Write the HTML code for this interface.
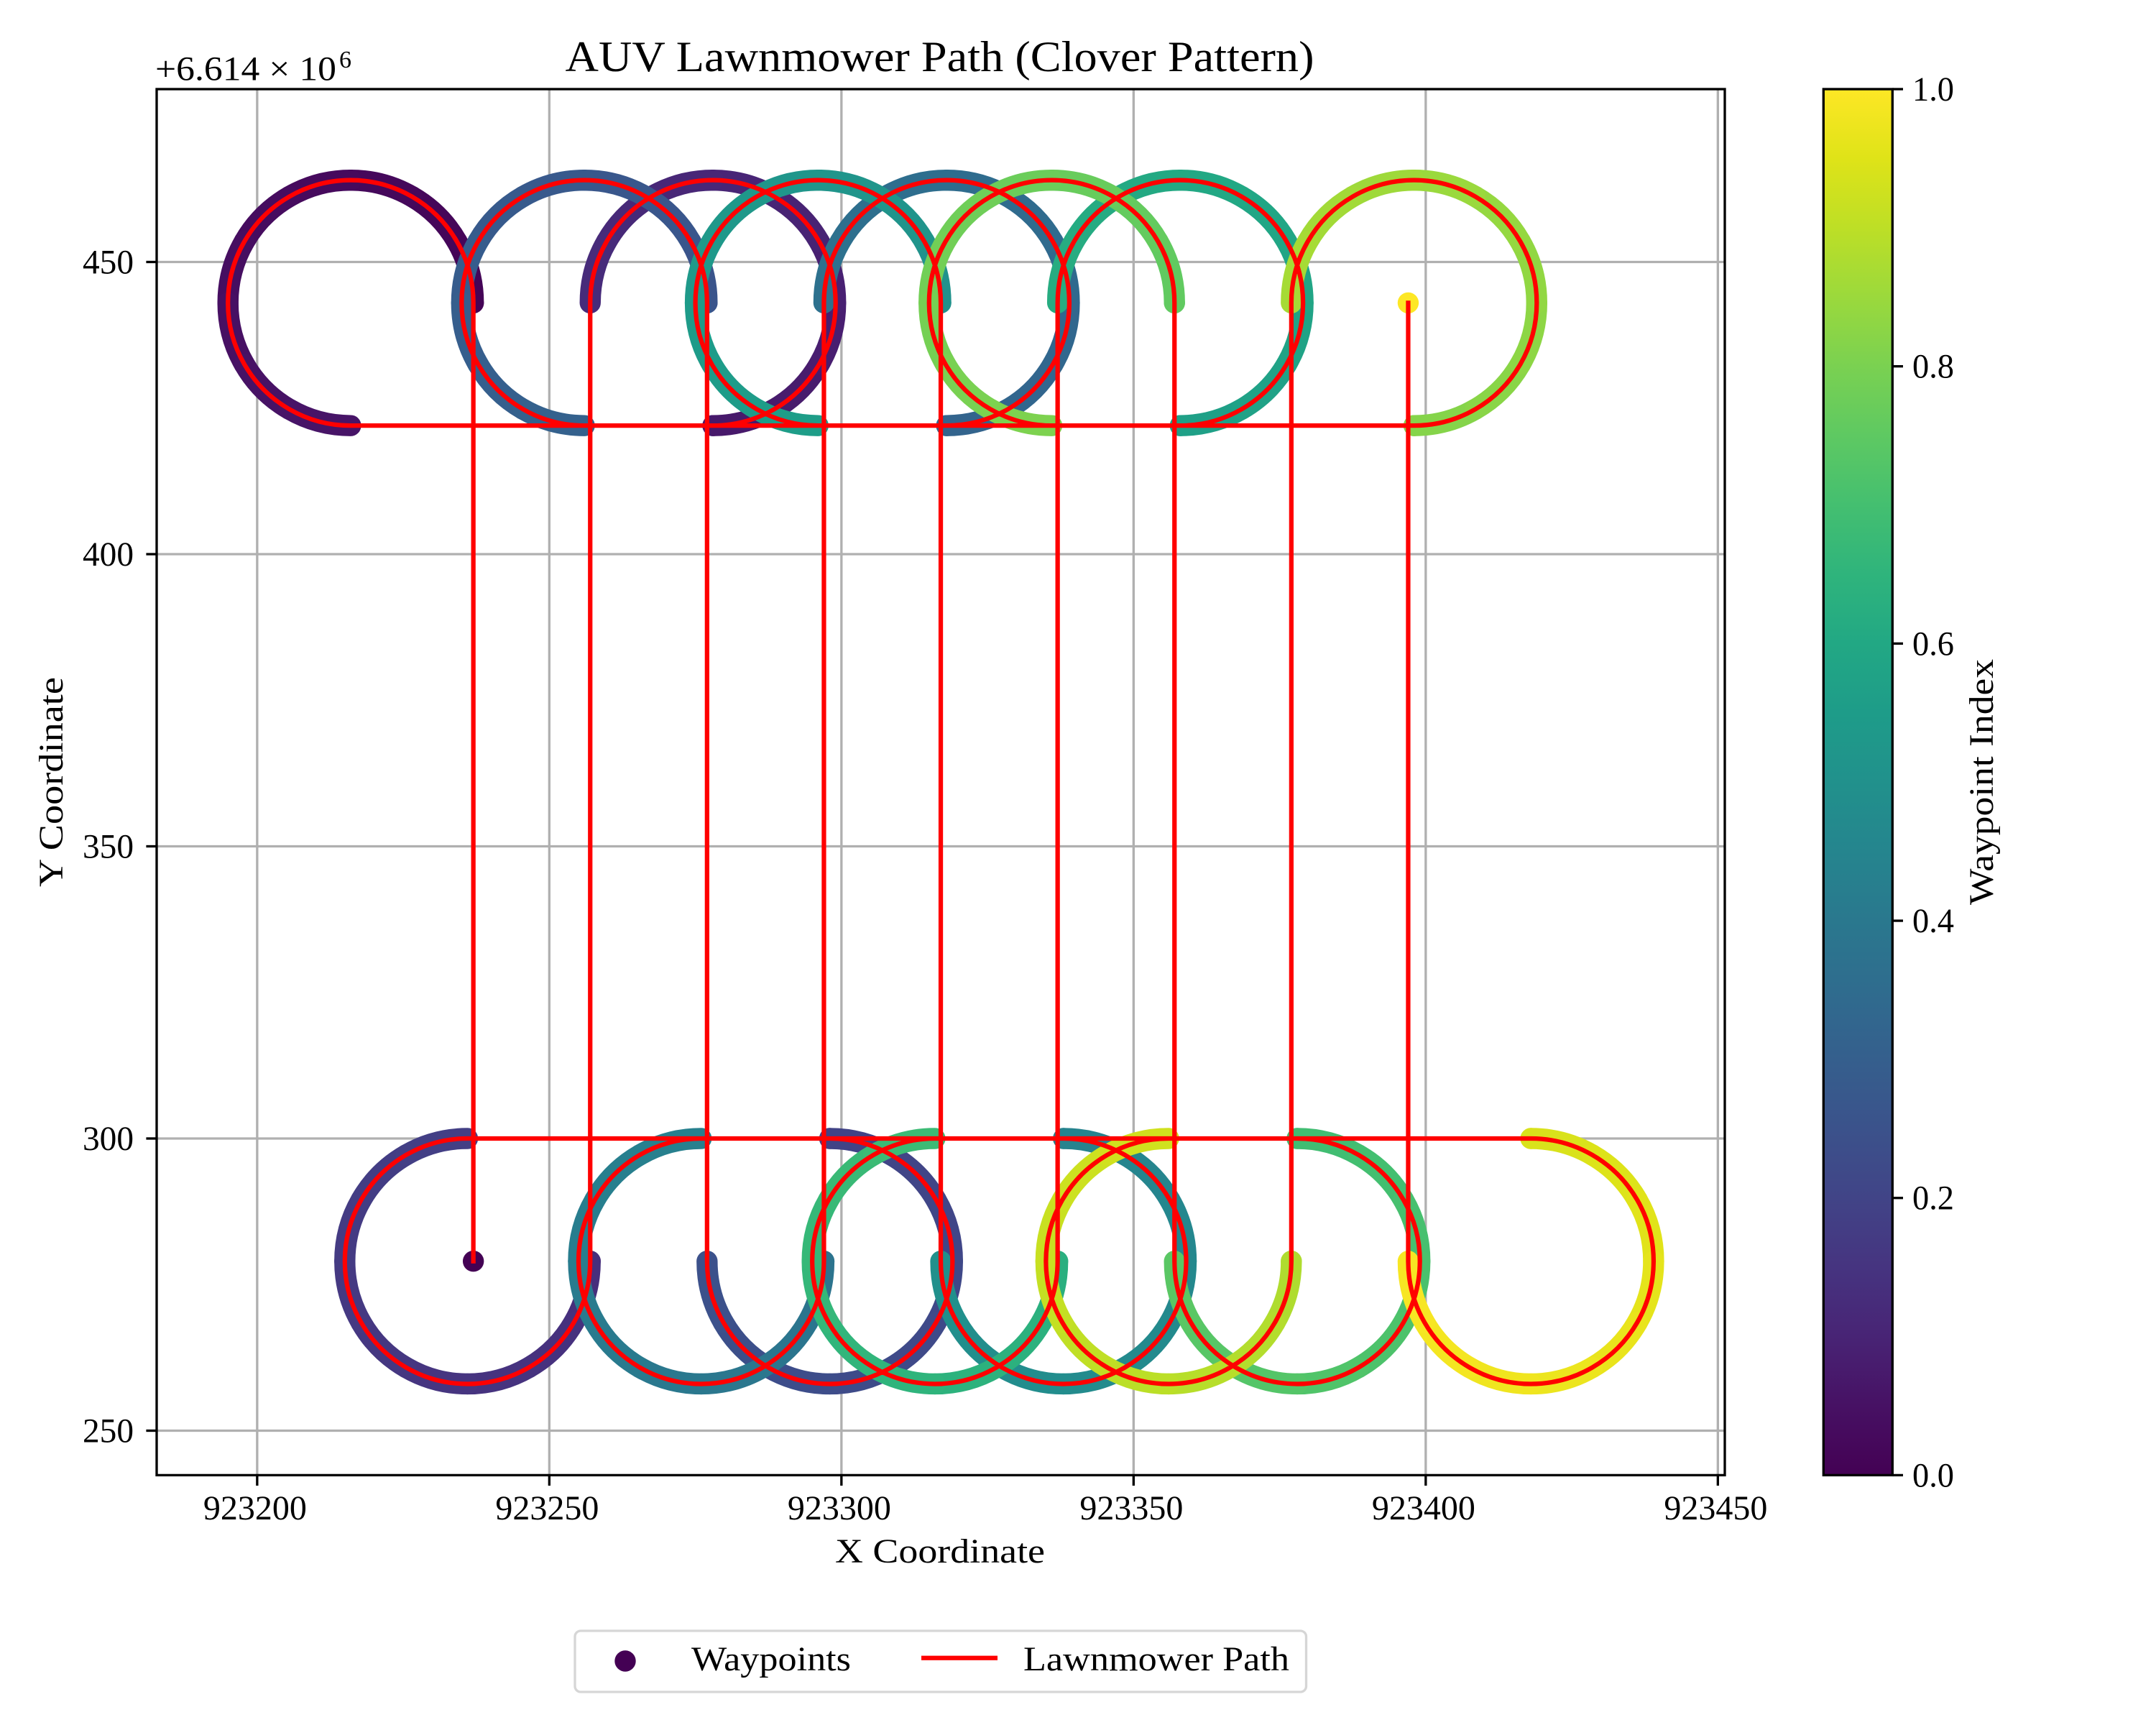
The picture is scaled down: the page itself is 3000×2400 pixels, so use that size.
<!DOCTYPE html>
<html lang="en">
<head>
<meta charset="utf-8">
<title>AUV Lawnmower Path (Clover Pattern)</title>
<style>
html,body{margin:0;padding:0;background:#fff;}
svg{display:block;}
text{font-family:"Liberation Serif",serif;fill:#000;}
</style>
</head>
<body>
<svg id="chart" xmlns="http://www.w3.org/2000/svg" width="3000" height="2400" viewBox="0 0 3000 2400">
  <rect x="0" y="0" width="3000" height="2400" fill="#fff"/>
  <g id="grid"></g>
  <g id="markers"></g>
  <path id="route" fill="none" stroke="#ff0000" stroke-width="6.25" stroke-linecap="square" stroke-linejoin="round"/>
  <rect x="218" y="124" width="2182" height="1928.4" fill="none" stroke="#000" stroke-width="3.33"/>
  <g id="ticks"></g>
  <text x="1307.5" y="99" font-size="60" text-anchor="middle" textLength="1042" lengthAdjust="spacingAndGlyphs">AUV Lawnmower Path (Clover Pattern)</text>
  <text x="216" y="111.6" font-size="48" textLength="252" lengthAdjust="spacingAndGlyphs">+6.614 × 10</text>
  <text x="472" y="94" font-size="34">6</text>
  <text x="1308" y="2174" font-size="48" text-anchor="middle" textLength="292" lengthAdjust="spacingAndGlyphs">X Coordinate</text>
  <text transform="translate(87,1088) rotate(-90)" font-size="48" text-anchor="middle" textLength="292" lengthAdjust="spacingAndGlyphs">Y Coordinate</text>
  <defs><linearGradient id="viridis" x1="0" y1="1" x2="0" y2="0"></linearGradient></defs>
  <rect x="2537.3" y="124" width="96" height="1928.4" fill="url(#viridis)" stroke="#000" stroke-width="3.33"/>
  <g id="cbticks"></g>
  <text transform="translate(2773,1088) rotate(-90)" font-size="48" text-anchor="middle" textLength="342" lengthAdjust="spacingAndGlyphs">Waypoint Index</text>
  <g>
    <rect x="800" y="2269" width="1017.5" height="85" rx="8" ry="8" fill="#fff" stroke="#d6d6d6" stroke-width="3.33"/>
    <circle cx="870" cy="2311" r="14.7" fill="#440154"/>
    <text x="962" y="2324" font-size="48" textLength="222" lengthAdjust="spacingAndGlyphs">Waypoints</text>
    <line x1="1282" y1="2306.7" x2="1388" y2="2306.7" stroke="#ff0000" stroke-width="6.25"/>
    <text x="1424" y="2324" font-size="48" textLength="370" lengthAdjust="spacingAndGlyphs">Lawnmower Path</text>
  </g>
</svg>
<script>
// Axis offsets as printed on the chart
const xOffset = 923000;
const yOffset = 6614000;

// Waypoints in visiting order: start point, 16 turns of 10 points each, end point.
const waypointX = [
  237,
  237,234.19,226.5,216,205.5,197.81,195,197.81,205.5,216,
  278,288.5,296.19,299,296.19,288.5,278,267.5,259.81,257,
  257,254.19,246.5,236,225.5,217.81,215,217.81,225.5,236,
  298,308.5,316.19,319,316.19,308.5,298,287.5,279.81,277,
  277,274.19,266.5,256,245.5,237.81,235,237.81,245.5,256,
  318,328.5,336.19,339,336.19,328.5,318,307.5,299.81,297,
  297,294.19,286.5,276,265.5,257.81,255,257.81,265.5,276,
  338,348.5,356.19,359,356.19,348.5,338,327.5,319.81,317,
  317,314.19,306.5,296,285.5,277.81,275,277.81,285.5,296,
  358,368.5,376.19,379,376.19,368.5,358,347.5,339.81,337,
  337,334.19,326.5,316,305.5,297.81,295,297.81,305.5,316,
  378,388.5,396.19,399,396.19,388.5,378,367.5,359.81,357,
  357,354.19,346.5,336,325.5,317.81,315,317.81,325.5,336,
  398,408.5,416.19,419,416.19,408.5,398,387.5,379.81,377,
  377,374.19,366.5,356,345.5,337.81,335,337.81,345.5,356,
  418,428.5,436.19,439,436.19,428.5,418,407.5,399.81,397,
  397
];
const waypointY = [
  279,
  443,453.5,461.19,464,461.19,453.5,443,432.5,424.81,422,
  422,424.81,432.5,443,453.5,461.19,464,461.19,453.5,443,
  279,268.5,260.81,258,260.81,268.5,279,289.5,297.19,300,
  300,297.19,289.5,279,268.5,260.81,258,260.81,268.5,279,
  443,453.5,461.19,464,461.19,453.5,443,432.5,424.81,422,
  422,424.81,432.5,443,453.5,461.19,464,461.19,453.5,443,
  279,268.5,260.81,258,260.81,268.5,279,289.5,297.19,300,
  300,297.19,289.5,279,268.5,260.81,258,260.81,268.5,279,
  443,453.5,461.19,464,461.19,453.5,443,432.5,424.81,422,
  422,424.81,432.5,443,453.5,461.19,464,461.19,453.5,443,
  279,268.5,260.81,258,260.81,268.5,279,289.5,297.19,300,
  300,297.19,289.5,279,268.5,260.81,258,260.81,268.5,279,
  443,453.5,461.19,464,461.19,453.5,443,432.5,424.81,422,
  422,424.81,432.5,443,453.5,461.19,464,461.19,453.5,443,
  279,268.5,260.81,258,260.81,268.5,279,289.5,297.19,300,
  300,297.19,289.5,279,268.5,260.81,258,260.81,268.5,279,
  443
];
// Turning radius of each loop (data units) and rotation sense of each loop
const turnRadius = [21];
const turnClockwise = [0,0,1,1,0,0,1,1,0,0,1,1,0,0,1,1];
const pointsPerTurn = [10];

// Tick values
const xTickValues = [923200,923250,923300,923350,923400,923450];
const yTickValues = [250,300,350,400,450];
const colorbarTickValues = [0,0.2,0.4,0.6,0.8,1];
const xTickLabels = ['923200','923250','923300','923350','923400','923450'];
const yTickLabels = ['250','300','350','400','450'];
const colorbarTickLabels = ['0.0','0.2','0.4','0.6','0.8','1.0'];

// Viridis colormap anchors
const viridis = ['#440154','#471164','#482475','#463480','#414487','#3b528b','#355f8d','#2f6c8e','#2a788e','#25858e','#21918c','#1e9c89','#22a884','#2fb47c','#44bf70','#5ec962','#7ad151','#9bd93c','#bddf26','#dfe318','#fde725'];

const svgNS = 'http://www.w3.org/2000/svg';
const unit = 8.13;
function xScale(v){ return 218 + (v - 923182.8) * unit; }
function yScale(v){ return 364.5 + (450 - v) * unit; }
function cScale(v){ return 2052.4 - v * 1928.4; }
function colorAt(t){
  const f = Math.max(0, Math.min(1, t)) * (viridis.length - 1);
  const i = Math.min(viridis.length - 2, Math.floor(f));
  const a = viridis[i], b = viridis[i + 1], w = f - i;
  let out = 'rgb(';
  for (let k = 0; k < 3; k++) {
    const ca = parseInt(a.substr(1 + k * 2, 2), 16);
    const cb = parseInt(b.substr(1 + k * 2, 2), 16);
    out += Math.round(ca + (cb - ca) * w) + (k < 2 ? ',' : ')');
  }
  return out;
}
function make(parent, tag, attrs, txt){
  const el = document.createElementNS(svgNS, tag);
  for (const key in attrs) el.setAttribute(key, attrs[key]);
  if (txt !== undefined) el.textContent = txt;
  document.getElementById(parent).appendChild(el);
  return el;
}

// Gradient for colorbar
viridis.forEach(function(c, i){
  make('viridis', 'stop', {offset: i / (viridis.length - 1), 'stop-color': c});
});

// Grid, ticks and tick labels
xTickValues.forEach(function(v, i){
  const px = xScale(v);
  const g = make('grid', 'line', {x1: px, x2: px, y1: 124, y2: 2052.4, stroke: '#b0b0b0', 'stroke-width': 3.33});
  
  
  const t = make('ticks', 'line', {x1: px, x2: px, y1: 2052.4, y2: 2067, stroke: '#000', 'stroke-width': 3.33});
  
  
  const l = make('ticks', 'text', {x: px - 3, y: 2114, 'font-size': 48, 'text-anchor': 'middle', textLength: 144, lengthAdjust: 'spacingAndGlyphs'}, xTickLabels[i]);
  
  
});
yTickValues.forEach(function(v, i){
  const py = yScale(v);
  const g = make('grid', 'line', {x1: 218, x2: 2400, y1: py, y2: py, stroke: '#b0b0b0', 'stroke-width': 3.33});
  
  
  const t = make('ticks', 'line', {x1: 203.4, x2: 218, y1: py, y2: py, stroke: '#000', 'stroke-width': 3.33});
  
  
  const l = make('ticks', 'text', {x: 186, y: py + 16, 'font-size': 48, 'text-anchor': 'end', textLength: 71, lengthAdjust: 'spacingAndGlyphs'}, yTickLabels[i]);
  
  
});
colorbarTickValues.forEach(function(v, i){
  const py = cScale(v);
  const t = make('cbticks', 'line', {x1: 2633.3, x2: 2648, y1: py, y2: py, stroke: '#000', 'stroke-width': 3.33});
  
  
  const l = make('cbticks', 'text', {x: 2661, y: py + 16, 'font-size': 48, textLength: 58, lengthAdjust: 'spacingAndGlyphs'}, colorbarTickLabels[i]);
  
  
});

// Markers and path
const last = waypointX.length - 1;
const perTurn = pointsPerTurn[0];
const rPx = turnRadius[0] * unit;
let routeD = 'M' + xScale(xOffset + waypointX[0]) + ' ' + yScale(waypointY[0]);

const startDot = make('markers', 'circle', {cx: xScale(xOffset + waypointX[0]), cy: yScale(waypointY[0]), r: 14.7, fill: colorAt(0)});



for (let i = 1; i < last; i++) {
  const turn = Math.floor((i - 1) / perTurn);
  const x1 = xScale(xOffset + waypointX[i]);
  const y1 = yScale(waypointY[i]);
  const sameTurn = (i % perTurn) !== 0;
  if (i % perTurn === 1) {
    routeD += 'L' + x1 + ' ' + y1;
    const dot = make('markers', 'circle', {cx: x1, cy: y1, r: 14.7, fill: colorAt(i / last)});
    
    
  }
  if (sameTurn) {
    const x2 = xScale(xOffset + waypointX[i + 1]);
    const y2 = yScale(waypointY[i + 1]);
    const arc = 'A' + rPx + ' ' + rPx + ' 0 0 ' + turnClockwise[turn] + ' ' + x2 + ' ' + y2;
    routeD += arc;
    const seg = make('markers', 'path', {d: 'M' + x1 + ' ' + y1 + arc, fill: 'none', stroke: colorAt((i + 0.5) / last), 'stroke-width': 29.4, 'stroke-linecap': 'round'});
    
    
  }
}
routeD += 'L' + xScale(xOffset + waypointX[last]) + ' ' + yScale(waypointY[last]);
document.getElementById('route').setAttribute('d', routeD);

const endDot = make('markers', 'circle', {cx: xScale(xOffset + waypointX[last]), cy: yScale(waypointY[last]), r: 14.7, fill: colorAt(1)});


</script>
</body>
</html>
